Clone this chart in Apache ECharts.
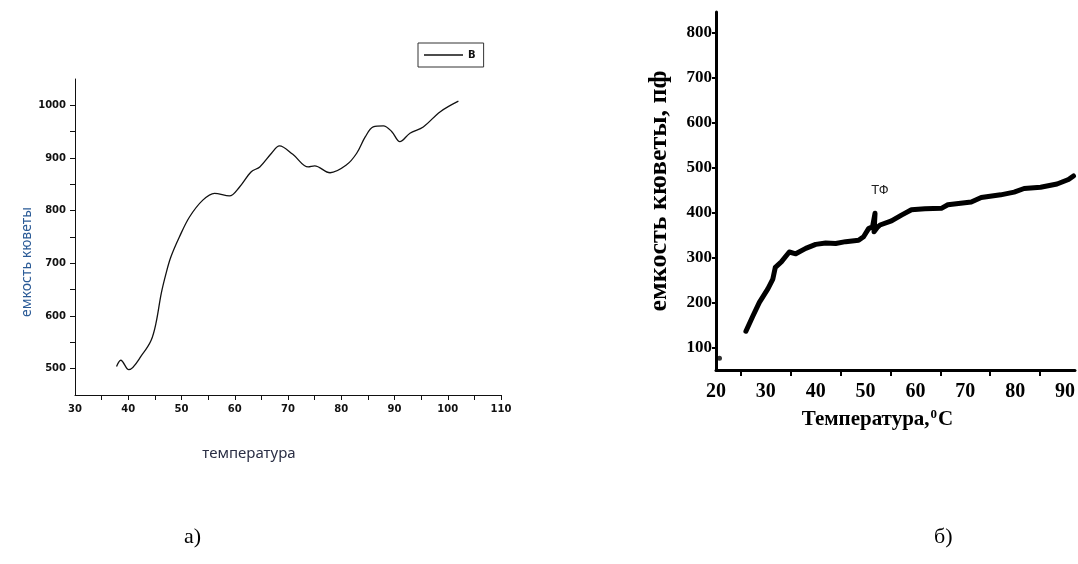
<!DOCTYPE html>
<html>
<head>
<meta charset="utf-8">
<script src="https://cdn.jsdelivr.net/npm/echarts@6/dist/echarts.min.js"></script>
<style>
html,body{margin:0;padding:0;background:#fff;}
#c{width:1078px;height:564px;}
</style>
</head>
<body>
<div id="c"></div>
<script>
// ---- chart a) data ----
const tempA = [37.8, 38.6, 40.1, 42.7, 44.3, 45.2, 46.2, 47.1, 48.0, 49.6, 51.5, 54.0, 56.2, 59.0, 60.9, 63.1, 64.7, 66.9, 68.4, 70.9, 73.8, 75.0, 77.9, 81.0, 82.9, 84.5, 86.0, 87.9, 89.5, 91.0, 92.9, 95.4, 98.6, 102.0];
const capA  = [504, 516, 498, 528, 554, 586, 643, 681, 712, 750, 788, 820, 833, 828, 845, 874, 883, 909, 923, 907, 883, 885, 872, 887, 909, 940, 959, 961, 950, 931, 947, 959, 988, 1008];
const xLabelsA = [30, 40, 50, 60, 70, 80, 90, 100, 110];
const xTicksA = [35, 40, 45, 50, 55, 60, 65, 70, 75, 80, 85, 90, 95, 100, 105, 110];
const yLabelsA = [500, 600, 700, 800, 900, 1000];
const yTicksA = [500, 550, 600, 650, 700, 750, 800, 850, 900, 950, 1000];
const seriesNameA = 'В';

// ---- chart б) data ----
const tempB = [26.0, 27.4, 28.7, 30.4, 31.4, 31.9, 33.1, 34.7, 36.0, 38.0, 40.0, 42.0, 44.0, 46.0, 48.6, 49.6, 50.6, 51.4, 51.9, 51.7, 52.3, 52.9, 55.2, 57.2, 59.2, 61.9, 65.2, 66.5, 71.2, 73.2, 77.1, 79.8, 81.8, 85.1, 88.4, 90.7, 91.7];
const capB  = [136, 170, 200, 230, 252, 278, 290, 312, 308, 320, 329, 332, 331, 335, 338, 346, 364, 368, 398, 357, 366, 372, 381, 394, 406, 408, 409, 417, 423, 433, 439, 445, 453, 456, 463, 473, 481];
const strayPointB = [[20.7, 76]];
const xLabelsB = [20, 30, 40, 50, 60, 70, 80, 90];
const xTicksB = [25, 35, 45, 55, 65, 75, 85];
const yLabelsB = [100, 200, 300, 400, 500, 600, 700, 800];
const noteB = {text: 'ТФ', temp: 52.9, cap: 448};

const pairs = (xs, ys) => xs.map((x, i) => [x, ys[i]]);
const plain = v => String(v);

const chart = echarts.init(document.getElementById('c'), null, {renderer: 'canvas'});
const pix = {fontFamily: 'DejaVu Sans', fontWeight: 'bold', fontSize: 10, color: '#111', formatter: plain};
const serif = 'Liberation Serif';

chart.setOption({
  backgroundColor: '#fff',
  animation: false,
  legend: {
    data: [seriesNameA],
    left: 418, top: 43,
    orient: 'horizontal',
    icon: 'rect',
    padding: [6, 8, 6, 6],
    borderColor: '#333', borderWidth: 1,
    itemWidth: 39, itemHeight: 1.3, itemGap: 4,
    textStyle: {fontFamily: 'DejaVu Sans', fontWeight: 'bold', fontSize: 10, color: '#111', lineHeight: 12, height: 12}
  },
  grid: [
    {left: 75, right: 577, top: 79, bottom: 169},
    {left: 716, right: 1, top: 12, bottom: 194}
  ],
  xAxis: [
    {
      gridIndex: 0, type: 'value', min: 30, max: 110,
      axisLine: {onZero: false, lineStyle: {color: '#111', width: 1}},
      axisTick: {show: true, customValues: xTicksA, length: 5, lineStyle: {color: '#111'}},
      axisLabel: Object.assign({customValues: xLabelsA, margin: 9}, pix),
      splitLine: {show: false},
      name: 'температура', nameLocation: 'middle', nameGap: 51,
      nameTextStyle: {fontFamily: 'Noto Sans', fontSize: 15, color: '#2b2f45', padding: [0, 78, 0, 0]}
    },
    {
      gridIndex: 1, type: 'value', min: 20, max: 92,
      axisLine: {onZero: false, lineStyle: {color: '#000', width: 3}},
      axisTick: {show: true, customValues: xTicksB, length: 6, lineStyle: {color: '#000', width: 2}},
      axisLabel: {customValues: xLabelsB, margin: 12, fontFamily: serif, fontWeight: 'bold', fontSize: 20, color: '#000'},
      splitLine: {show: false},
      name: 'Температура,{s|0}С', nameLocation: 'middle', nameGap: 38,
      nameTextStyle: {fontFamily: serif, fontWeight: 'bold', fontSize: 21, color: '#000', padding: [0, 36, 0, 0],
        rich: {s: {fontFamily: serif, fontWeight: 'bold', fontSize: 13, color: '#000', padding: [0, 1, 10, 1]}}}
    }
  ],
  yAxis: [
    {
      gridIndex: 0, type: 'value', min: 450, max: 1050,
      axisLine: {show: true, onZero: false, lineStyle: {color: '#111', width: 1}},
      axisTick: {show: true, customValues: yTicksA, length: 5, lineStyle: {color: '#111'}},
      axisLabel: Object.assign({customValues: yLabelsA, margin: 9}, pix),
      splitLine: {show: false},
      name: 'емкость кюветы', nameLocation: 'middle', nameGap: 34,
      nameTextStyle: {fontFamily: 'Noto Sans', fontSize: 14, color: '#2a5a96', padding: [0, 50, 0, 0]}
    },
    {
      gridIndex: 1, type: 'value', min: 50, max: 845,
      axisLine: {show: true, onZero: false, lineStyle: {color: '#000', width: 3}},
      axisTick: {show: true, customValues: yLabelsB, length: 4, lineStyle: {color: '#000', width: 2}},
      axisLabel: {customValues: yLabelsB, margin: 4, fontFamily: serif, fontWeight: 'bold', fontSize: 17, color: '#000'},
      splitLine: {show: false},
      name: 'емкость кюветы, пф', nameLocation: 'middle', nameGap: 44,
      nameTextStyle: {fontFamily: serif, fontWeight: 'bold', fontSize: 26, color: '#000'}
    }
  ],
  series: [
    {
      name: seriesNameA, type: 'line', xAxisIndex: 0, yAxisIndex: 0,
      data: pairs(tempA, capA), smooth: 0.35, showSymbol: false, symbol: 'none',
      lineStyle: {color: '#111', width: 1.3}, itemStyle: {color: '#111'}
    },
    {
      name: 'емкость кюветы, пф', type: 'line', xAxisIndex: 1, yAxisIndex: 1,
      data: pairs(tempB, capB), smooth: false, showSymbol: false, symbol: 'none',
      lineStyle: {color: '#000', width: 5, join: 'round', cap: 'round'},
      markPoint: {
        symbol: 'circle', symbolSize: 0,
        label: {show: true, formatter: noteB.text, fontFamily: 'Liberation Sans', fontSize: 13, color: '#222'},
        data: [{coord: [noteB.temp, noteB.cap]}]
      }
    },
    {
      name: 'точка', type: 'scatter', xAxisIndex: 1, yAxisIndex: 1,
      data: strayPointB, symbolSize: 5, itemStyle: {color: '#000'}
    }
  ],
  graphic: [
    {type: 'text', left: 184, top: 526, style: {text: 'а)', font: '22px "Liberation Serif"', fill: '#000'}},
    {type: 'text', left: 934, top: 526, style: {text: 'б)', font: '22px "Liberation Serif"', fill: '#000'}}
  ]
});
</script>
</body>
</html>
